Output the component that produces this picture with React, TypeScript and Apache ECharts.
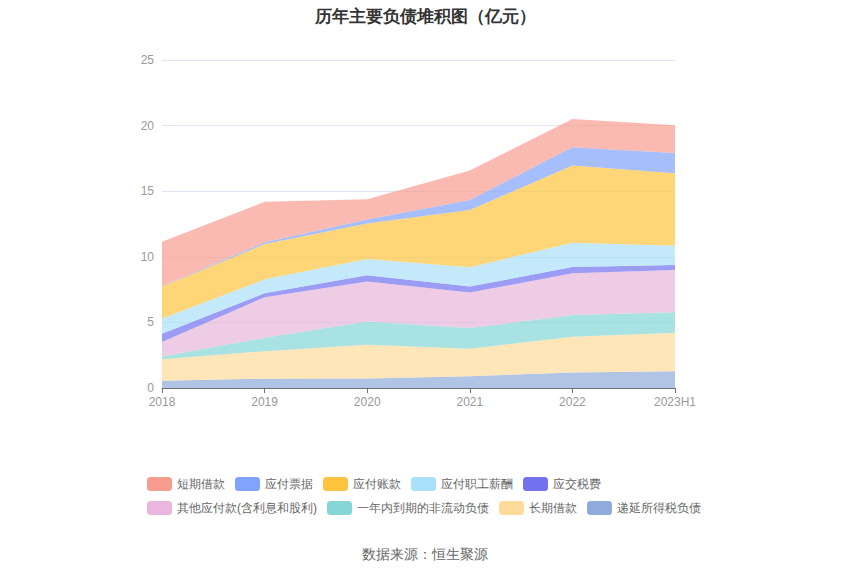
import React, { useEffect, useRef } from "react";
import * as echarts from "echarts";

const categories = ["2018", "2019", "2020", "2021", "2022", "2023H1"];
const yTicks = { min: 0, max: 25, interval: 5 };

// stack order: bottom first
const s递延所得税负债 = [0.56, 0.71, 0.73, 0.89, 1.19, 1.27];
const s长期借款 = [1.64, 2.1, 2.56, 2.11, 2.72, 2.95];
const s一年内到期 = [0.21, 1.02, 1.78, 1.57, 1.66, 1.55];
const s其他应付款 = [1.09, 3.09, 3.04, 2.7, 3.17, 3.23];
const s应交税费 = [0.63, 0.3, 0.48, 0.46, 0.48, 0.38];
const s应付职工薪酬 = [1.17, 1.06, 1.24, 1.47, 1.86, 1.47];
const s应付账款 = [2.43, 2.69, 2.71, 4.37, 5.87, 5.52];
const s应付票据 = [0.05, 0.13, 0.31, 0.76, 1.4, 1.55];
const s短期借款 = [3.37, 3.09, 1.54, 2.24, 2.16, 2.11];

const seriesDefs = [
  { name: "递延所得税负债", data: s递延所得税负债, color: "#8eabdb" },
  { name: "长期借款", data: s长期借款, color: "#ffdb9b" },
  { name: "一年内到期的非流动负债", data: s一年内到期, color: "#85d6d6" },
  { name: "其他应付款(含利息和股利)", data: s其他应付款, color: "#e8b7db" },
  { name: "应交税费", data: s应交税费, color: "#7272f1" },
  { name: "应付职工薪酬", data: s应付职工薪酬, color: "#a9e0fa" },
  { name: "应付账款", data: s应付账款, color: "#fec43e" },
  { name: "应付票据", data: s应付票据, color: "#80a4fb" },
  { name: "短期借款", data: s短期借款, color: "#f99c90" },
];

const legendOrder = [
  "短期借款",
  "应付票据",
  "应付账款",
  "应付职工薪酬",
  "应交税费",
  "其他应付款(含利息和股利)",
  "一年内到期的非流动负债",
  "长期借款",
  "递延所得税负债",
];

export default function App() {
  const ref = useRef<HTMLDivElement>(null);
  useEffect(() => {
    if (!ref.current) return;
    const chart = echarts.init(ref.current, undefined, { renderer: "svg" });
    chart.setOption({
      animation: false,
      title: {
        text: "历年主要负债堆积图（亿元）",
        left: "center",
        top: 3,
        textStyle: { fontSize: 17, fontWeight: "bold", color: "#333" },
      },
      legend: {
        data: legendOrder,
        left: 142,
        top: 472,
        width: 580,
        itemWidth: 25,
        itemHeight: 14,
        itemGap: 10,
        icon: "roundRect",
        textStyle: { fontSize: 12, color: "#666" },
      },
      graphic: [
        {
          type: "text",
          left: "center",
          top: 547,
          style: { text: "数据来源：恒生聚源", fontSize: 14, fill: "#666" },
        },
      ],
      grid: { left: 162, right: 175, top: 60, bottom: 187 },
      xAxis: {
        type: "category",
        boundaryGap: false,
        data: categories,
        axisLine: { lineStyle: { color: "#6E7079" } },
        axisTick: { show: true },
        axisLabel: { color: "#999", fontSize: 12 },
      },
      yAxis: {
        type: "value",
        min: yTicks.min,
        max: yTicks.max,
        interval: yTicks.interval,
        axisLabel: { color: "#999", fontSize: 12 },
        splitLine: { lineStyle: { color: "#E0E6F1" } },
      },
      series: seriesDefs.map((s) => ({
        name: s.name,
        type: "line",
        stack: "total",
        data: s.data,
        symbol: "none",
        lineStyle: { width: 0 },
        itemStyle: { color: s.color },
        areaStyle: { color: s.color, opacity: 0.7 },
      })),
    });
    return () => chart.dispose();
  }, []);
  return (
    <div
      ref={ref}
      style={{ position: "absolute", left: 0, top: 0, width: 850, height: 575 }}
    />
  );
}
